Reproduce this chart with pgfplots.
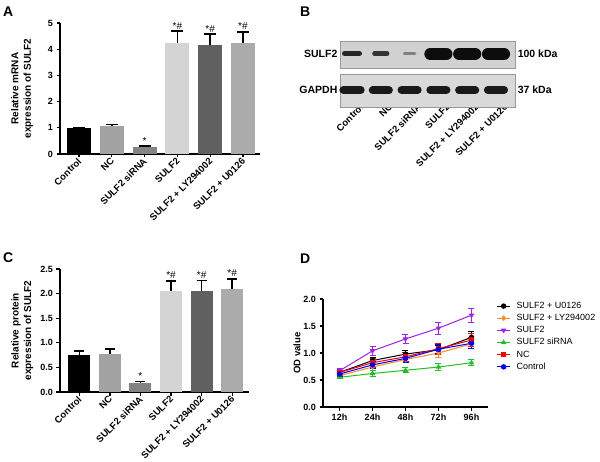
\documentclass[border=0pt]{standalone}
\usepackage{fontspec}
\setmainfont{Liberation Sans}
\usepackage{pgfplots}
\pgfplotsset{compat=1.18}

\definecolor{cNC}{HTML}{A3A3A3}
\definecolor{cSi}{HTML}{838383}
\definecolor{cSU}{HTML}{D4D4D4}
\definecolor{cLY}{HTML}{606060}
\definecolor{cU0}{HTML}{ABABAB}
\definecolor{dOrange}{HTML}{FF8C1A}
\definecolor{dPurple}{HTML}{A020F0}
\definecolor{dGreen}{HTML}{22C022}

\tikzset{sig/.style={font=\fontsize{10}{11}\selectfont, anchor=south, inner sep=1pt},
  letter/.style={anchor=north west, inner sep=0pt, font=\bfseries\fontsize{14}{16}\selectfont}}

\pgfplotsset{
  panel/.style={
    scale only axis, clip=false, enlargelimits=false,
    axis x line*=bottom, axis y line*=left,
    axis line style={line width=1.3pt, black},
    tick style={line width=1.3pt, black},
    tick align=outside, major tick length=3.5pt,
    ticklabel style={font=\bfseries\fontsize{9}{10}\selectfont},
    /pgf/number format/assume math mode=true,
  },
  barpanel/.style={
    panel, ybar, bar width=24pt,
    xtick={0,...,5},
    xticklabels={Control,NC,SULF2 siRNA,SULF2,SULF2 + LY294002,SULF2 + U0126},
    xticklabel style={font=\bfseries\fontsize{9.5}{10}\selectfont, rotate=45, anchor=east, inner sep=1pt, yshift=-2pt},
  },
  mybar/.style={ybar, bar shift=0pt, draw=none, fill=#1,
    error bars/y dir=plus, error bars/y explicit,
    error bars/error bar style={line width=1.5pt, black},
    error bars/error mark options={rotate=90, mark size=6pt, line width=1.5pt, black}},
  mybarc/.style={mybar=#1,
    error bars/error mark options={rotate=90, mark size=5pt, line width=1.5pt, black}},
  od/.style={color=#1, line width=1pt, mark size=2.2pt,
    error bars/y dir=both, error bars/y explicit,
    error bars/error bar style={line width=1pt},
    error bars/error mark options={rotate=90, mark size=3pt, line width=1pt}},
}

\begin{document}
\begin{tikzpicture}
\useasboundingbox (0,0) rectangle (600pt,-462pt);

% ---------- A ----------
\node[letter] at (3pt,-7pt) {A};
\begin{axis}[barpanel, at={(60pt,-154pt)}, anchor=south west,
  width=200pt, height=131pt,
  xmin=-0.58, xmax=5.52, ymin=0, ymax=5, ytick={0,1,...,5},
  ylabel={Relative mRNA\\expression of SULF2},
  every axis y label/.style={at={(axis description cs:-0.118,0.5)}, rotate=90, anchor=south,
    font=\bfseries\fontsize{10}{12.5}\selectfont, align=center}]
  \addplot[mybar=black] coordinates {(0,1.00) +- (0,0.0)};
  \addplot[mybar=cNC]   coordinates {(1,1.07) +- (0,0.06)};
  \addplot[mybar=cSi]   coordinates {(2,0.27) +- (0,0.04)};
  \addplot[mybar=cSU]   coordinates {(3,4.25) +- (0,0.44)};
  \addplot[mybar=cLY]   coordinates {(4,4.15) +- (0,0.43)};
  \addplot[mybar=cU0]   coordinates {(5,4.24) +- (0,0.42)};
  \node[sig] at (axis cs:2,0.33) {*};
  \node[sig] at (axis cs:3,4.72) {*\#};
  \node[sig] at (axis cs:4,4.61) {*\#};
  \node[sig] at (axis cs:5,4.69) {*\#};
\end{axis}

% ---------- B ----------
\node[letter] at (300pt,-7pt) {B};
\begin{axis}[scale only axis, clip=false, at={(340pt,-107pt)}, anchor=south west,
  width=175pt, height=66pt, xmin=0.583, xmax=6.66, ymin=0, ymax=66,
  axis line style={draw=none}, major tick length=0pt, ytick=\empty,
  xtick={1,...,6},
  xticklabels={Control,NC,SULF2 siRNA,SULF2,SULF2 + LY294002,SULF2 + U0126},
  xticklabel style={font=\bfseries\fontsize{9.5}{10}\selectfont, rotate=45, anchor=east, inner sep=1pt, xshift=9pt, yshift=-6pt}]
  % membranes
  \addplot[fill=black!18, draw=black!40, line width=0.6pt] coordinates {(0.583,39) (6.66,39) (6.66,66) (0.583,66) (0.583,39)};
  \addplot[fill=black!15, draw=black!40, line width=0.6pt] coordinates {(0.583,0) (6.66,0) (6.66,33) (0.583,33) (0.583,0)};
  % SULF2 bands
  \addplot[line width=5pt, line cap=round, black!85] coordinates {(0.74,53.5) (1.26,53.5)};
  \addplot[line width=4.5pt, line cap=round, black!80] coordinates {(1.78,53.5) (2.22,53.5)};
  \addplot[line width=3pt, line cap=round, black!50] coordinates {(2.82,53.5) (3.18,53.5)};
  \addplot[line width=12pt, line cap=round, black!95] coordinates {(3.72,53) (4.28,53)};
  \addplot[line width=12pt, line cap=round, black!95] coordinates {(4.72,53) (5.28,53)};
  \addplot[line width=12pt, line cap=round, black!95] coordinates {(5.72,53) (6.28,53)};
  % GAPDH bands
  \addplot[line width=8pt, line cap=round, black!90] coordinates {(0.7,17) (1.3,17)};
  \addplot[line width=8pt, line cap=round, black!90] coordinates {(1.72,16.5) (2.28,16.5)};
  \addplot[line width=8pt, line cap=round, black!90] coordinates {(2.72,17) (3.28,17)};
  \addplot[line width=8pt, line cap=round, black!90] coordinates {(3.72,17) (4.28,17)};
  \addplot[line width=8pt, line cap=round, black!90] coordinates {(4.72,16.5) (5.28,16.5)};
  \addplot[line width=8pt, line cap=round, black!90] coordinates {(5.72,17) (6.28,17)};
  \node[anchor=east, font=\bfseries\fontsize{10.5}{12}\selectfont, inner sep=0pt] at (axis cs:0.5,53) {SULF2};
  \node[anchor=east, font=\bfseries\fontsize{10.5}{12}\selectfont, inner sep=0pt] at (axis cs:0.5,17) {GAPDH};
  \node[anchor=west, font=\bfseries\fontsize{10.5}{12}\selectfont, inner sep=0pt] at (axis cs:6.75,53) {100 kDa};
  \node[anchor=west, font=\bfseries\fontsize{10.5}{12}\selectfont, inner sep=0pt] at (axis cs:6.75,17) {37 kDa};
\end{axis}

% ---------- C ----------
\node[letter] at (3pt,-253pt) {C};
\begin{axis}[barpanel, at={(60pt,-392pt)}, anchor=south west,
  width=189pt, height=123pt, bar width=22pt,
  xmin=-0.63, xmax=5.55, ymin=0, ymax=2.5, ytick={0,0.5,...,2.5},
  yticklabel style={/pgf/number format/.cd, fixed, fixed zerofill, precision=1},
  ylabel={Relative protein\\expression of SULF2},
  every axis y label/.style={at={(axis description cs:-0.123,0.5)}, rotate=90, anchor=south,
    font=\bfseries\fontsize{10}{12.5}\selectfont, align=center}]
  \addplot[mybarc=black] coordinates {(0,0.75) +- (0,0.08)};
  \addplot[mybarc=cNC]   coordinates {(1,0.78) +- (0,0.09)};
  \addplot[mybarc=cSi]   coordinates {(2,0.19) +- (0,0.02)};
  \addplot[mybarc=cSU]   coordinates {(3,2.05) +- (0,0.21)};
  \addplot[mybarc=cLY]   coordinates {(4,2.05) +- (0,0.22)};
  \addplot[mybarc=cU0]   coordinates {(5,2.09) +- (0,0.21)};
  \node[sig] at (axis cs:2,0.23) {*};
  \node[sig] at (axis cs:3,2.28) {*\#};
  \node[sig] at (axis cs:4,2.29) {*\#};
  \node[sig] at (axis cs:5,2.32) {*\#};
\end{axis}

% ---------- D ----------
\node[letter] at (300pt,-254pt) {D};
\begin{axis}[panel, at={(323pt,-407pt)}, anchor=south west,
  width=165pt, height=108pt,
  xmin=0.5, xmax=5.5, ymin=0, ymax=2,
  xtick={1,...,5}, xticklabels={12h,24h,48h,72h,96h},
  ytick={0,0.5,...,2},
  yticklabel style={/pgf/number format/.cd, fixed, fixed zerofill, precision=1},
  ylabel={OD value},
  every axis y label/.style={at={(axis description cs:-0.115,0.5)}, rotate=90, anchor=south,
    font=\bfseries\fontsize{9.5}{11}\selectfont},
  legend style={at={(1.045,1.0)}, anchor=north west, draw=none, fill=none,
    font=\fontsize{9}{11}\selectfont, row sep=0.3pt, column sep=4pt, inner sep=1pt},
  legend cell align=left,
  legend image code/.code={\draw[mark repeat=2, mark phase=2] plot coordinates {(0pt,0pt) (6.5pt,0pt) (13pt,0pt)};}]
  \addplot[od=black, mark=*] coordinates {(1,0.64) +- (0,0.03) (2,0.86) +- (0,0.06) (3,0.98) +- (0,0.07) (4,1.06) +- (0,0.08) (5,1.29) +- (0,0.10)};
  \addlegendentry{SULF2 + U0126}
  \addplot[od=dOrange, mark=diamond*] coordinates {(1,0.58) +- (0,0.04) (2,0.74) +- (0,0.06) (3,0.88) +- (0,0.06) (4,1.00) +- (0,0.08) (5,1.17) +- (0,0.08)};
  \addlegendentry{SULF2 + LY294002}
  \addplot[od=dPurple, mark=triangle*, mark options={rotate=180}] coordinates {(1,0.67) +- (0,0.05) (2,1.04) +- (0,0.08) (3,1.26) +- (0,0.09) (4,1.46) +- (0,0.11) (5,1.70) +- (0,0.13)};
  \addlegendentry{SULF2}
  \addplot[od=dGreen, mark=triangle*] coordinates {(1,0.55) +- (0,0.03) (2,0.62) +- (0,0.05) (3,0.68) +- (0,0.05) (4,0.74) +- (0,0.06) (5,0.82) +- (0,0.06)};
  \addlegendentry{SULF2 siRNA}
  \addplot[od=red, mark=square*] coordinates {(1,0.64) +- (0,0.04) (2,0.82) +- (0,0.08) (3,0.93) +- (0,0.08) (4,1.08) +- (0,0.10) (5,1.24) +- (0,0.12)};
  \addlegendentry{NC}
  \addplot[od=blue, mark=*] coordinates {(1,0.61) +- (0,0.04) (2,0.78) +- (0,0.06) (3,0.90) +- (0,0.08) (4,1.07) +- (0,0.08) (5,1.18) +- (0,0.10)};
  \addlegendentry{Control}
\end{axis}
\end{tikzpicture}
\end{document}
